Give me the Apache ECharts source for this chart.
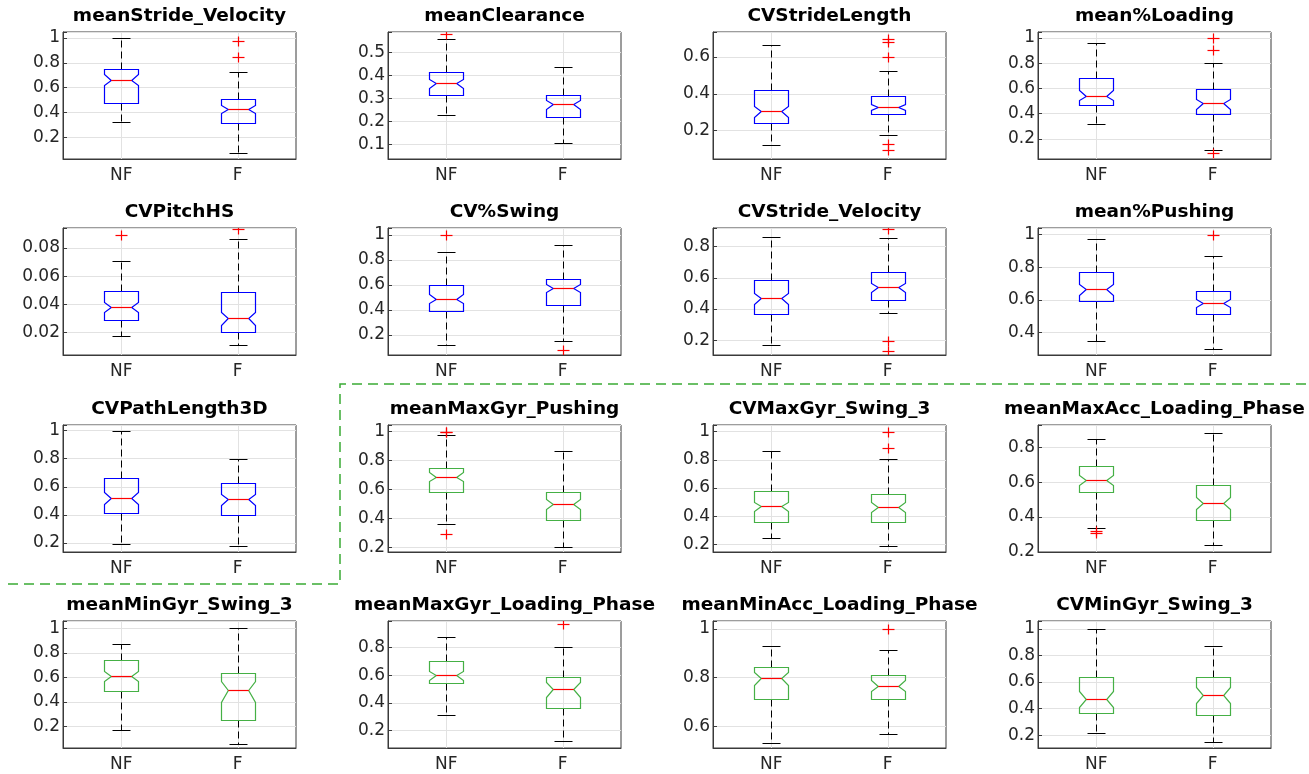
<!DOCTYPE html>
<html><head><meta charset="utf-8">
<script src="https://cdn.jsdelivr.net/npm/echarts@6/dist/echarts.min.js"></script>
<style>html,body{margin:0;padding:0;background:#fff}#c{width:1309px;height:774px}</style>
</head><body><div id="c"></div>
<script>
// ---- data ----
const titles = ['meanStride_Velocity','meanClearance','CVStrideLength','mean%Loading',
  'CVPitchHS','CV%Swing','CVStride_Velocity','mean%Pushing',
  'CVPathLength3D','meanMaxGyr_Pushing','CVMaxGyr_Swing_3','meanMaxAcc_Loading_Phase',
  'meanMinGyr_Swing_3','meanMaxGyr_Loading_Phase','meanMinAcc_Loading_Phase','CVMinGyr_Swing_3'];
const categories = ['NF','F'];
const axisMin  = [0.025,0.038,0.046,0.041, 0.0041,0.04,0.105,0.263, 0.136,0.166,0.146,0.2, 0.025,0.075,0.51,0.103];
const axisMax  = [1.048,0.587,0.736,1.048, 0.0942,1.054,0.92,1.041, 1.040,1.046,1.047,0.927, 1.06,0.99,1.033,1.06];
const axisStep = [0.2,0.1,0.2,0.2, 0.02,0.2,0.2,0.2, 0.2,0.2,0.2,0.2, 0.2,0.2,0.2,0.2];
// [lowerWhisker, q1, notchLow, median, notchHigh, q3, upperWhisker]
const statsNF = [
  [0.321,0.478,0.618,0.664,0.707,0.753,1.0],
  [0.229,0.315,0.346,0.367,0.382,0.416,0.556],
  [0.122,0.24,0.275,0.308,0.335,0.422,0.664],
  [0.319,0.473,0.505,0.544,0.590,0.685,0.958],
  [0.0176,0.029,0.0349,0.0383,0.0418,0.0497,0.071],
  [0.117,0.389,0.456,0.491,0.528,0.597,0.861],
  [0.170,0.367,0.433,0.47,0.504,0.586,0.864],
  [0.349,0.595,0.633,0.666,0.699,0.771,0.971],
  [0.196,0.417,0.481,0.521,0.564,0.663,1.0],
  [0.359,0.582,0.655,0.688,0.717,0.75,0.977],
  [0.244,0.36,0.438,0.47,0.501,0.576,0.864],
  [0.336,0.541,0.581,0.612,0.642,0.692,0.849],
  [0.175,0.486,0.57,0.61,0.655,0.74,0.87],
  [0.31,0.54,0.565,0.598,0.63,0.70,0.875],
  [0.53,0.71,0.77,0.80,0.825,0.845,0.93],
  [0.215,0.365,0.41,0.47,0.53,0.635,1.0]
];
const statsF = [
  [0.074,0.319,0.397,0.429,0.464,0.505,0.723],
  [0.106,0.218,0.253,0.275,0.294,0.314,0.437],
  [0.175,0.293,0.311,0.329,0.346,0.387,0.526],
  [0.115,0.396,0.439,0.483,0.515,0.594,0.804],
  [0.0115,0.0207,0.0254,0.0302,0.0349,0.0487,0.0864],
  [0.152,0.44,0.544,0.573,0.605,0.645,0.915],
  [0.374,0.461,0.511,0.541,0.568,0.637,0.858],
  [0.298,0.515,0.556,0.580,0.607,0.658,0.867],
  [0.177,0.396,0.474,0.511,0.55,0.625,0.8],
  [0.203,0.386,0.464,0.501,0.536,0.579,0.865],
  [0.186,0.357,0.431,0.468,0.501,0.558,0.805],
  [0.238,0.384,0.449,0.483,0.515,0.584,0.883],
  [0.06,0.257,0.40,0.494,0.57,0.633,1.0],
  [0.125,0.36,0.445,0.50,0.55,0.59,0.80],
  [0.567,0.71,0.745,0.767,0.79,0.81,0.914],
  [0.15,0.35,0.44,0.50,0.56,0.635,0.87]
];
const outliersNF = [[],[0.579],[],[], [0.089],[1.0],[],[], [],[1.0,0.995,0.292],[],[0.319,0.306], [],[],[],[]];
const outliersF  = [[0.976,0.847],[],[0.697,0.684,0.598,0.125,0.095],[1.0,0.908,0.089], [0.0935],[0.08],[0.911,0.198,0.131],[1.0], [],[],[1.0,0.883],[], [],[0.97],[1.0],[]];

// ---- layout / style ----
const colLeft = [63,388,713,1038], rowTop = [32,228,425,621], W = 233, H = 127;
const FONT = "'DejaVu Sans', Verdana, sans-serif";
const BLUE = '#0000ff', GREEN = '#45b045';
const crisp = v => Math.round(v) + 0.5;

function boxRenderer(color) {
  return function (params, api) {
    const x = api.value(0);
    const lw = api.value(1), q1 = api.value(2), nLo = api.value(3), med = api.value(4),
          nHi = api.value(5), q3 = api.value(6), uw = api.value(7);
    const cx = crisp(api.coord([x, med])[0]);
    const Y = v => crisp(api.coord([x, v])[1]);
    const band = api.size([1, 0])[0];
    const hw = Math.round(band * 0.15), ins = hw * 0.4, cap = Math.round(hw * 0.5);
    const cs = params.coordSys;
    const xl = cx - hw, xr = cx + hw;
    const dash = {stroke: '#000', lineWidth: 1, lineDash: [7, 4]};
    const solid = {stroke: '#000', lineWidth: 1};
    return {type: 'group', children: [
      {type: 'line', shape: {x1: cx, y1: cs.y, x2: cx, y2: cs.y + cs.height}, style: {stroke: '#e2e2e2', lineWidth: 1}},
      {type: 'line', shape: {x1: cx, y1: Y(q3), x2: cx, y2: Y(uw)}, style: dash},
      {type: 'line', shape: {x1: cx, y1: Y(q1), x2: cx, y2: Y(lw)}, style: dash},
      {type: 'line', shape: {x1: cx - cap, y1: Y(uw), x2: cx + cap, y2: Y(uw)}, style: solid},
      {type: 'line', shape: {x1: cx - cap, y1: Y(lw), x2: cx + cap, y2: Y(lw)}, style: solid},
      {type: 'polygon', shape: {points: [
        [xl, Y(q3)], [xr, Y(q3)], [xr, Y(nHi)], [xr - ins, Y(med)], [xr, Y(nLo)], [xr, Y(q1)],
        [xl, Y(q1)], [xl, Y(nLo)], [xl + ins, Y(med)], [xl, Y(nHi)]]},
        style: {fill: null, stroke: color, lineWidth: 1.2}},
      {type: 'line', shape: {x1: xl + ins, y1: Y(med), x2: xr - ins, y2: Y(med)}, style: {stroke: '#ff0000', lineWidth: 1.2}}
    ]};
  };
}
function outlierRenderer(params, api) {
  const p = api.coord([api.value(0), api.value(1)]);
  const cx = crisp(p[0]), cy = crisp(p[1]);
  return {type: 'group', children: [
    {type: 'line', shape: {x1: cx - 6, y1: cy, x2: cx + 6, y2: cy}, style: {stroke: '#ff0000', lineWidth: 1.2}},
    {type: 'line', shape: {x1: cx, y1: cy - 5, x2: cx, y2: cy + 5}, style: {stroke: '#ff0000', lineWidth: 1.2}}
  ]};
}
const fmt = v => String(parseFloat(v.toFixed(4)));

const grid = [], xAxis = [], yAxis = [], series = [], title = [];
titles.forEach((t, i) => {
  const r = Math.floor(i / 4), c = i % 4;
  const step = axisStep[i];
  grid.push({left: colLeft[c], top: rowTop[r], width: W, height: H, show: true,
    borderColor: '#3a3a3a', borderWidth: 1, backgroundColor: 'transparent', containLabel: false});
  title.push({text: t, left: colLeft[c] + W / 2, top: rowTop[r] - 25, textAlign: 'center', padding: 0,
    textStyle: {fontSize: 18.5, fontWeight: 'bold', fontFamily: FONT, color: '#000'}});
  xAxis.push({type: 'category', gridIndex: i, data: categories, boundaryGap: true,
    axisLine: {show: true, lineStyle: {color: '#3a3a3a'}},
    axisTick: {show: true, inside: true, alignWithLabel: true, length: 4, lineStyle: {color: '#3a3a3a'}},
    axisLabel: {fontSize: 17, fontFamily: FONT, color: '#262626', margin: 8},
    splitLine: {show: false}});
  yAxis.push({type: 'value', gridIndex: i, min: axisMin[i], max: axisMax[i],
    minInterval: step, maxInterval: step, splitNumber: 5, scale: true,
    axisLine: {show: true, lineStyle: {color: '#3a3a3a'}},
    axisTick: {show: true, inside: true, length: 4, lineStyle: {color: '#3a3a3a'}},
    axisLabel: {fontSize: 17, fontFamily: FONT, color: '#262626', margin: 3, showMinLabel: true, showMaxLabel: true,
      formatter: v => { const k = v / step; return Math.abs(k - Math.round(k)) < 1e-6 ? fmt(v) : ''; }},
    splitLine: {show: true, lineStyle: {color: '#e2e2e2', width: 1}}});
  const color = i < 9 ? BLUE : GREEN;
  series.push({type: 'custom', xAxisIndex: i, yAxisIndex: i, clip: true, renderItem: boxRenderer(color),
    data: [[0].concat(statsNF[i]), [1].concat(statsF[i])], z: 2});
  const outs = outliersNF[i].map(v => [0, v]).concat(outliersF[i].map(v => [1, v]));
  series.push({type: 'custom', xAxisIndex: i, yAxisIndex: i, clip: true, renderItem: outlierRenderer, data: outs, z: 3});
});

const chart = echarts.init(document.getElementById('c'));
chart.setOption({
  animation: false, backgroundColor: '#fff',
  title, grid, xAxis, yAxis, series,
  graphic: [{type: 'polyline', shape: {points: [[8, 584], [340, 584], [340, 384], [1309, 384]]},
    style: {stroke: '#3aaa35', lineWidth: 1.5, lineDash: [10, 6], fill: null}, z: 10}]
});
</script>
</body></html>
